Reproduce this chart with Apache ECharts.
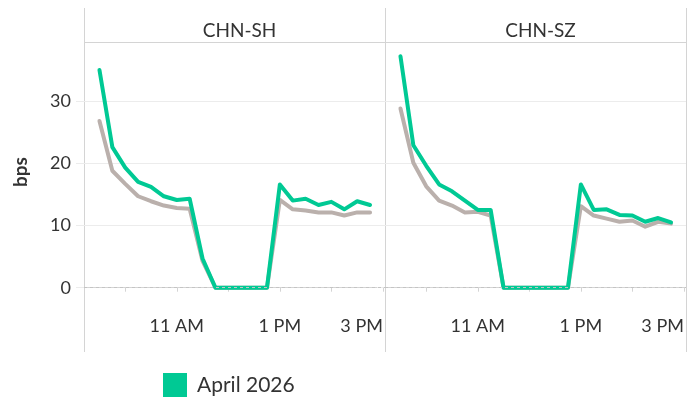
<!DOCTYPE html>
<html lang="en">
<head>
    <meta charset="UTF-8">
    <title>bps by session</title>
    <script src="https://cdn.jsdelivr.net/npm/echarts@6/dist/echarts.min.js"></script>
    <style>
        html, body { margin: 0; padding: 0; background: #fff; }
        #graph { width: 696px; height: 400px; }
    </style>
</head>
<body>
<div id="graph"></div>
<script>
    // 15 minute buckets
    var times = ['09:30','09:45','10:00','10:15','10:30','10:45','11:00','11:15','11:30','11:45','12:00',
                 '12:15','12:30','12:45','13:00','13:15','13:30','13:45','14:00','14:15','14:30','14:45'];
    var panels = ['CHN-SH', 'CHN-SZ'];
    var shApril = [35.0, 22.6, 19.3, 17.0, 16.2, 14.7, 14.1, 14.3, 4.7, 0, 0, 0, 0, 0, 16.6, 14.0, 14.3, 13.3, 13.8, 12.6, 13.9, 13.3];
    var shBase  = [26.8, 18.8, 16.7, 14.7, 13.9, 13.2, 12.8, 12.7, 4.3, 0, 0, 0, 0, 0, 14.1, 12.6, 12.4, 12.1, 12.1, 11.6, 12.1, 12.1];
    var szApril = [37.2, 22.9, 19.6, 16.6, 15.5, 14.0, 12.5, 12.5, 0, 0, 0, 0, 0, 0, 16.6, 12.5, 12.6, 11.7, 11.6, 10.6, 11.2, 10.5];
    var szBase  = [28.8, 20.1, 16.3, 14.0, 13.2, 12.1, 12.2, 11.6, 0, 0, 0, 0, 0, 0, 13.1, 11.6, 11.1, 10.6, 10.8, 9.8, 10.6, 10.3];
    var xTickHours = [10, 11, 12, 13, 14, 15];
    var xLabelHours = [11, 13, 15];
    var yTicks = [0, 10, 20, 30];

    var GREEN = '#00c994', GRAY = '#bab0ac', BORDER = '#d4d4d4', GRID = '#ececec', TXT = '#333';
    var FONT = 'Lato';

    function toHour(s) {
        var p = s.split(':');
        return +p[0] + (+p[1]) / 60;
    }
    function pairs(vals) {
        var out = [];
        for (var i = 0; i < times.length; i++) out.push([toHour(times[i]), vals[i]]);
        return out;
    }
    function hourLabel(v) {
        var h = Math.round(v);
        var hh = h > 12 ? h - 12 : h;
        return hh + ' ' + (h >= 12 ? 'PM' : 'AM');
    }

    var lefts = [84, 385];
    var grids = [], xAxes = [], yAxes = [], titles = [];
    for (var p = 0; p < 2; p++) {
        grids.push({ left: lefts[p], top: 42, width: 301, height: 260 });
        titles.push({
            text: panels[p], left: lefts[p] + 150.5, top: 16, textAlign: 'center',
            textStyle: { fontFamily: FONT, fontSize: 19, fontWeight: 'normal', color: TXT }
        });
        xAxes.push({
            type: 'value', gridIndex: p, min: 9.2, max: 15.04,
            axisLine: { show: true, lineStyle: { color: BORDER, width: 1 } },
            axisTick: { show: true, length: 4, customValues: xTickHours, lineStyle: { color: BORDER } },
            axisLabel: {
                customValues: xLabelHours, formatter: hourLabel, alignMaxLabel: 'right',
                fontFamily: FONT, fontSize: 18, color: TXT, margin: 15
            },
            splitLine: { show: false }
        });
        yAxes.push({
            type: 'value', gridIndex: p, min: -2.3, max: 39.5,
            name: p === 0 ? 'bps' : '', nameLocation: 'middle', nameGap: 54, nameRotate: 90,
            nameTextStyle: { fontFamily: FONT, fontSize: 19, fontWeight: 'bold', color: TXT },
            axisLine: { show: false },
            axisTick: { show: true, length: 8, customValues: yTicks, lineStyle: { color: GRID } },
            axisLabel: {
                show: p === 0, customValues: yTicks, fontFamily: FONT, fontSize: 18, color: TXT, margin: 13
            },
            splitLine: { show: true, lineStyle: { color: GRID, width: 1 } }
        });
    }

    function line(name, vals, color, idx, z) {
        return {
            name: name, type: 'line', xAxisIndex: idx, yAxisIndex: idx, data: pairs(vals),
            showSymbol: false, symbol: 'none', z: z, animation: false,
            lineStyle: { color: color, width: 4, cap: 'round', join: 'round' },
            itemStyle: { color: color }
        };
    }
    var zeroLine = {
        silent: true, symbol: 'none', label: { show: false },
        lineStyle: { color: '#c4c4c4', type: [3, 3], width: 1 },
        data: [{ yAxis: 0 }]
    };

    var series = [
        line('Baseline', shBase, GRAY, 0, 2),
        line('April 2026', shApril, GREEN, 0, 3),
        line('Baseline', szBase, GRAY, 1, 2),
        line('April 2026', szApril, GREEN, 1, 3)
    ];
    series[0].markLine = zeroLine;
    series[2].markLine = zeroLine;

    // panel borders and header strip
    var borders = [];
    [84, 385, 686].forEach(function (x) {
        borders.push({ type: 'line', shape: { x1: x + 0.5, y1: 8, x2: x + 0.5, y2: 352 }, style: { stroke: BORDER, lineWidth: 1 } });
    });
    borders.push({ type: 'line', shape: { x1: 84, y1: 42.5, x2: 687, y2: 42.5 }, style: { stroke: BORDER, lineWidth: 1 } });

    var myChart = echarts.init(document.getElementById('graph'), null, { renderer: 'canvas' });
    var option = {
        animation: false,
        title: titles,
        grid: grids,
        xAxis: xAxes,
        yAxis: yAxes,
        legend: {
            data: ['April 2026'], left: 158, top: 368, icon: 'rect',
            itemWidth: 24, itemHeight: 24,
            textStyle: { fontFamily: FONT, fontSize: 21, color: TXT, padding: [0, 0, 0, 5] }
        },
        graphic: borders,
        series: series
    };
    myChart.setOption(option);
</script>
</body>
</html>
